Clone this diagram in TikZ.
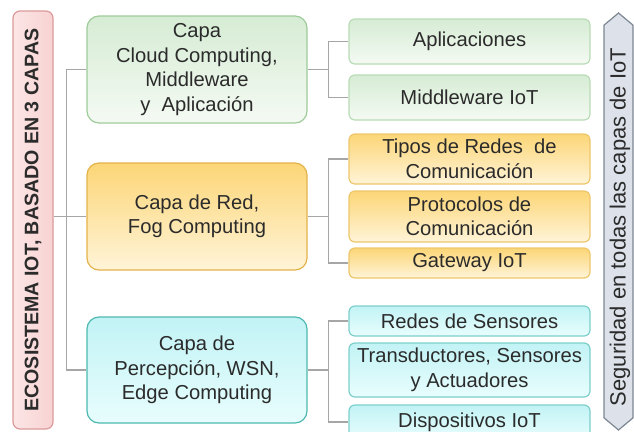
\documentclass[tikz,border=0pt]{standalone}
\usepackage{fontspec}
\setmainfont{Liberation Sans}
\usetikzlibrary{shapes.arrows}
\definecolor{txt}{HTML}{2B2B2B}
\definecolor{linkgray}{HTML}{A6A6A6}
\definecolor{redline}{HTML}{DC9A9A}
\definecolor{redtop}{HTML}{F8D2D2}
\definecolor{redbot}{HTML}{FCE6E6}
\definecolor{greenline}{HTML}{9ECB9A}
\definecolor{greentop}{HTML}{D6ECD4}
\definecolor{greenbot}{HTML}{F4FAF3}
\definecolor{greenleaf}{HTML}{B9DBB6}
\definecolor{yellowline}{HTML}{E3B24A}
\definecolor{yellowtop}{HTML}{FCD677}
\definecolor{yellowbot}{HTML}{FFF4D8}
\definecolor{yellowleaf}{HTML}{EEC66C}
\definecolor{tealline}{HTML}{4DB8B0}
\definecolor{tealtop}{HTML}{C2F3F5}
\definecolor{tealbot}{HTML}{E8FDFD}
\definecolor{tealleaf}{HTML}{7CCFCB}
\definecolor{secline}{HTML}{7C8792}
\definecolor{secfill}{HTML}{DDE2EA}

\begin{document}
\begin{tikzpicture}[x=1pt, y=-1pt,
    box/.style={draw, rounded corners=6pt, align=center, text=txt, inner sep=0pt,
      line width=1.2pt, font=\fontsize{20.2}{24.5}\selectfont},
    layer/.style={box, rounded corners=12pt, minimum width=220pt},
    leaf/.style={box, minimum width=241pt},
    greenbox/.style={draw=#1, top color=greentop, bottom color=greenbot},
    yellowbox/.style={draw=#1, top color=yellowtop, bottom color=yellowbot},
    tealbox/.style={draw=#1, top color=tealtop, bottom color=tealbot},
    link/.style={draw=linkgray, line width=1.6pt}]
    \useasboundingbox (0,0) rectangle (634,431);
    \clip (0,0) rectangle (634,431);
    % Root
    \node[box, rounded corners=7pt, draw=redline, left color=redbot, right color=redtop,
      minimum width=418pt, minimum height=40pt, rotate=90,
      font=\fontsize{19.6}{22}\selectfont\bfseries] (root) at (33,220)
      {ECOSISTEMA IOT, BASADO EN 3 CAPAS};
    % Layers
    \node[layer, greenbox=greenline, minimum height=107pt] (cloud) at (197,69.5)
      {Capa\\Cloud Computing,\\Middleware\\y\ \ Aplicación};
    \node[layer, yellowbox=yellowline, minimum height=107pt] (fog) at (197,216.5)
      {Capa de Red,\\Fog Computing};
    \node[layer, tealbox=tealline, minimum height=106pt] (edge) at (197,370)
      {Capa de\\Percepción, WSN,\\Edge Computing};
    % Leaves
    \node[leaf, greenbox=greenleaf, minimum height=45pt] (apps) at (469.5,41.5) {Aplicaciones};
    \node[leaf, greenbox=greenleaf, minimum height=45pt] (mware) at (469.5,97.5) {Middleware IoT};
    \node[leaf, yellowbox=yellowleaf, minimum height=50pt] (tipos) at (469.5,159)
      {Tipos de Redes\ \ de\\Comunicación};
    \node[leaf, yellowbox=yellowleaf, minimum height=51pt] (proto) at (469.5,216.5)
      {Protocolos de\\Comunicación};
    \node[leaf, yellowbox=yellowleaf, minimum height=30pt] (gate) at (469.5,263) {Gateway IoT};
    \node[leaf, tealbox=tealleaf, minimum height=30pt] (wsn) at (469.5,321) {Redes de Sensores};
    \node[leaf, tealbox=tealleaf, minimum height=54pt] (trans) at (469.5,370)
      {Transductores, Sensores\\y Actuadores};
    \node[leaf, tealbox=tealleaf, minimum height=34pt] (devs) at (469.5,422) {Dispositivos IoT};
    % Security arrow
    \node[double arrow, double arrow head extend=0pt, double arrow tip angle=100,
      draw=secline, line width=1.2pt, fill=secfill, minimum height=417pt,
      minimum width=29pt, inner sep=0pt, rotate=90] (sec) at (618.5,221.5) {};
    \node[rotate=90, text=txt, font=\fontsize{22}{24}\selectfont] (secText) at (620,227)
      {Seguridad en todas las capas de IoT};
    % Connectors
    \draw[link] (root.south |- fog.west) -- (fog.west);
    \draw[link] (cloud.west) -- ++(-20,0) |- (edge.west);
    \draw[link] (cloud.east) -- ++(21,0) coordinate (b1);
    \draw[link] (apps.west) -| (b1) |- (mware.west);
    \draw[link] (fog.east) -- ++(21,0) coordinate (b2);
    \draw[link] (tipos.west) -| (b2) |- (gate.west);
    \draw[link] (edge.east) -- ++(21,0) coordinate (b3);
    \draw[link] (wsn.west) -| (b3) |- (devs.west);
\end{tikzpicture}
\end{document}
